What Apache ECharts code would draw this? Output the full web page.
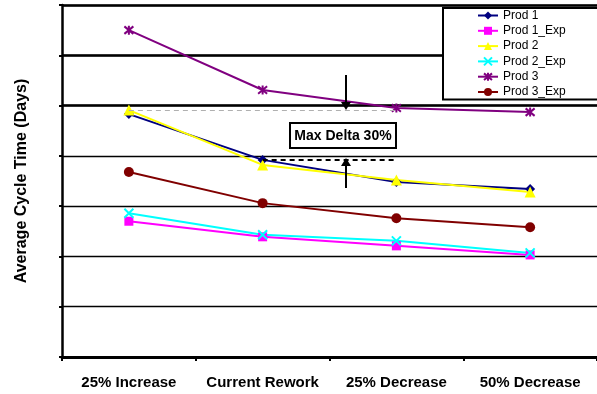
<!DOCTYPE html>
<html>
<head>
<meta charset="utf-8">
<script src="https://cdn.jsdelivr.net/npm/echarts@6/dist/echarts.min.js"></script>
<style>
  html, body { margin: 0; padding: 0; background: #fff; }
  #chart { width: 597px; height: 394px; }
</style>
</head>
<body>
<div id="chart"></div>
<script>
// Rework scenarios along the x axis
const categories = ['25% Increase', 'Current Rework', '25% Decrease', '50% Decrease'];

// Average cycle time (days) per product
const prod1    = [48.3, 39.2, 34.8, 33.4];
const prod1Exp = [27.0, 23.9, 22.1, 20.3];
const prod2    = [49.1, 38.2, 35.2, 32.8];
const prod2Exp = [28.6, 24.3, 23.1, 20.7];
const prod3    = [65.0, 53.1, 49.5, 48.7];
const prod3Exp = [36.8, 30.6, 27.6, 25.8];

// Value axis range and the heavier reference lines
const yMin = 0, yMax = 70, yStep = 10;
const heavyLines = [50, 60, 70];

const font = '"Liberation Sans", Arial, sans-serif';
const xMark = 'path://M0,0L10,10M10,0L0,10';
const starMark = 'path://M0,0L10,10M10,0L0,10M5,-1L5,11';

function lineSeries(name, data, color, symbol, size, extra) {
  return Object.assign({
    name: name,
    type: 'line',
    data: data,
    symbol: symbol,
    symbolSize: size,
    showSymbol: true,
    lineStyle: { color: color, width: 2 },
    itemStyle: { color: color },
    emphasis: { disabled: true },
    animation: false
  }, extra || {});
}

const chart = echarts.init(document.getElementById('chart'), null, { renderer: 'canvas' });

chart.setOption({
  animation: false,
  backgroundColor: '#fff',
  grid: { left: 62, top: 5, width: 536, height: 352, containLabel: false },
  legend: {
    orient: 'vertical',
    left: 443,
    top: 8,
    padding: [0, 36, 0, 34],
    itemGap: 0.3,
    itemWidth: 20,
    itemHeight: 10,
    backgroundColor: '#fff',
    borderColor: '#000',
    borderWidth: 2,
    borderRadius: 0,
    textStyle: { fontFamily: font, fontSize: 12, color: '#000', lineHeight: 15 },
    data: ['Prod 1', 'Prod 1_Exp', 'Prod 2', 'Prod 2_Exp', 'Prod 3', 'Prod 3_Exp']
  },
  xAxis: {
    type: 'category',
    data: categories,
    boundaryGap: true,
    axisLine: { lineStyle: { color: '#000', width: 3 } },
    axisTick: { show: true, interval: 0, length: 4, lineStyle: { color: '#000', width: 2 } },
    axisLabel: { interval: 0, fontFamily: font, fontSize: 15, fontWeight: 'bold', color: '#000', margin: 18 },
    splitLine: { show: false }
  },
  yAxis: {
    type: 'value',
    min: yMin,
    max: yMax,
    interval: yStep,
    name: 'Average Cycle Time (Days)',
    nameLocation: 'middle',
    nameGap: 32,
    nameTextStyle: { fontFamily: font, fontSize: 16, fontWeight: 'bold', color: '#000' },
    axisLine: { show: true, lineStyle: { color: '#000', width: 2.5 } },
    axisTick: { show: true, length: 3, lineStyle: { color: '#000', width: 2 } },
    axisLabel: { show: false },
    splitLine: { show: true, lineStyle: { color: '#000', width: 1.3 } }
  },
  series: [
    lineSeries('Prod 1', prod1, '#000080', 'diamond', 10, {
      markLine: {
        silent: true,
        symbol: 'none',
        label: { show: false },
        lineStyle: { color: '#000', type: [5, 4], width: 2 },
        data: [[{ coord: [1, prod1[1]] }, { coord: [2, prod1[1]] }]]
      }
    }),
    lineSeries('Prod 1_Exp', prod1Exp, '#FF00FF', 'rect', 9),
    lineSeries('Prod 2', prod2, '#FFFF00', 'triangle', 11, {
      markLine: {
        silent: true,
        symbol: 'none',
        label: { show: false },
        lineStyle: { color: '#b0b0b0', type: [5, 4], width: 1 },
        data: [[{ coord: [0, prod2[0]] }, { coord: [2, prod2[0]] }]]
      }
    }),
    lineSeries('Prod 2_Exp', prod2Exp, '#00FFFF', xMark, 9, {
      itemStyle: { color: '#00FFFF', borderColor: '#00FFFF', borderWidth: 2 }
    }),
    lineSeries('Prod 3', prod3, '#800080', starMark, 9, {
      itemStyle: { color: '#800080', borderColor: '#800080', borderWidth: 2 },
      markLine: {
        silent: true,
        symbol: 'none',
        label: { show: false },
        z: 1,
        lineStyle: { color: '#000', type: 'solid', width: 2.5 },
        data: heavyLines.map(v => ({ yAxis: v }))
      }
    }),
    lineSeries('Prod 3_Exp', prod3Exp, '#800000', 'circle', 10)
  ],
  graphic: [
    // "Max Delta" call-out with its two arrows
    { type: 'line', z: 100, shape: { x1: 346, y1: 75, x2: 346, y2: 104 }, style: { stroke: '#000', lineWidth: 2 } },
    { type: 'polygon', z: 100, shape: { points: [[341, 102], [351, 102], [346, 110]] }, style: { fill: '#000' } },
    { type: 'line', z: 100, shape: { x1: 346, y1: 188, x2: 346, y2: 164 }, style: { stroke: '#000', lineWidth: 2 } },
    { type: 'polygon', z: 100, shape: { points: [[341, 166], [351, 166], [346, 158]] }, style: { fill: '#000' } },
    { type: 'rect', z: 100, shape: { x: 290, y: 123, width: 106, height: 25 }, style: { fill: '#fff', stroke: '#000', lineWidth: 2 } },
    { type: 'text', z: 101, x: 343, y: 136, style: { text: 'Max Delta 30%', fontFamily: font, fontSize: 14, fontWeight: 'bold', fill: '#000', align: 'center', verticalAlign: 'middle' } }
  ]
});
</script>
</body>
</html>
